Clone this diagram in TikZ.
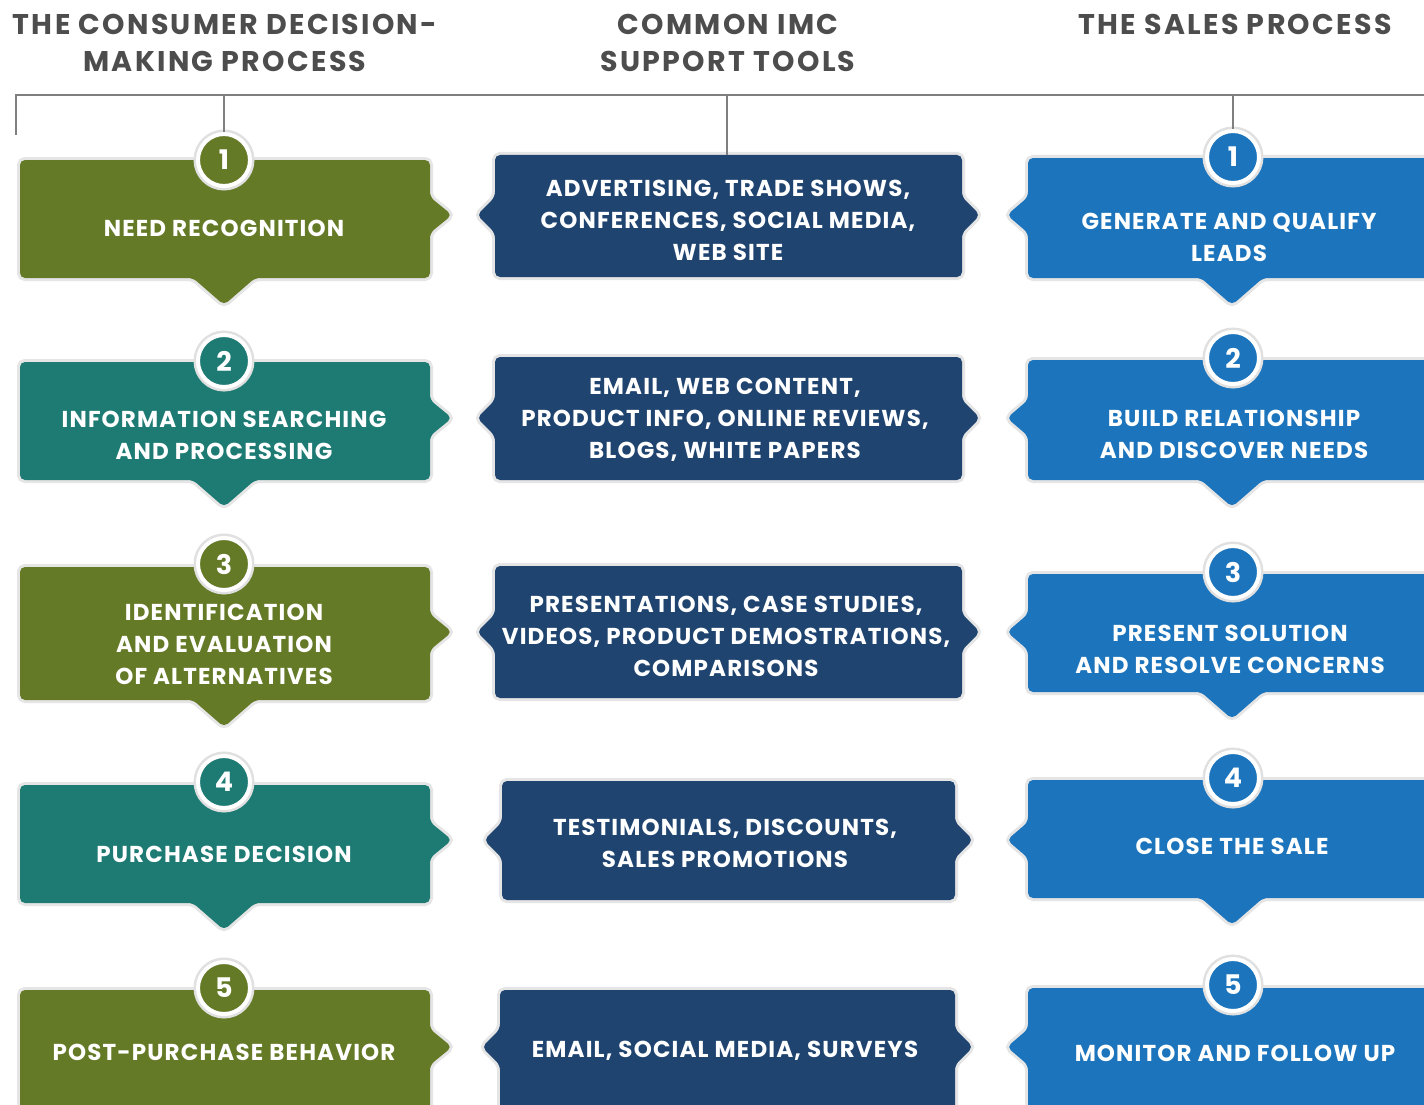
\documentclass[tikz,border=0pt]{standalone}
\usepackage{fontspec}
\setmainfont{Poppins}
\newfontfamily\widefont{Poppins}[LetterSpace=5]
\newfontfamily\headfont{Poppins}[LetterSpace=8]
\definecolor{cOlive}{HTML}{657A27}
\definecolor{cTeal}{HTML}{1E7B74}
\definecolor{cNavy}{HTML}{1F4470}
\definecolor{cBlue}{HTML}{1C75BC}
\definecolor{cLine}{HTML}{7F7F7F}
\definecolor{cHead}{HTML}{4D4D4D}
\tikzset{
  boxsh/.style={rounded corners=5pt,preaction={draw=black!10,line width=6pt}},
  numc/.style={circle,draw=white,line width=4pt,minimum size=52pt,inner sep=0pt,text=white,
     font=\bfseries\fontsize{27}{27}\selectfont,preaction={draw=black!12,line width=9pt}},
  txt/.style={text=white,align=center,font=\widefont\bfseries\fontsize{23}{32}\selectfont},
  head/.style={text=cHead,align=center,font=\headfont\bfseries\fontsize{28.5}{37}\selectfont},
  bracket/.style={draw=cLine,line width=2pt}
}
% left box: #1 y1, #2 y2, #3 ym (right tip), #4 colour
\newcommand\leftbox[4]{%
 \path[boxsh,fill=#4] (20,#1) -- (430,#1) -- (430,{#3-18}) -- (452,#3) -- (430,{#3+18}) -- (430,#2)
   -- (255,#2) -- (224,{#2+27}) -- (193,#2) -- (20,#2) -- cycle;}
% middle box: #1 x1, #2 x2, #3 y1, #4 y2, #5 ym
\newcommand\midbox[5]{%
 \path[boxsh,fill=cNavy] (#1,#3) -- (#2,#3) -- (#2,{#5-18}) -- ({#2+18},#5) -- (#2,{#5+18}) -- (#2,#4)
   -- (#1,#4) -- (#1,{#5+18}) -- ({#1-18},#5) -- (#1,{#5-18}) -- cycle;}
% right box: #1 y1, #2 y2, #3 ym
\newcommand\rightbox[3]{%
 \path[boxsh,fill=cBlue] (1028,#1) -- (1460,#1) -- (1460,#2) -- (1263,#2) -- (1232,{#2+27}) -- (1201,#2)
   -- (1028,#2) -- (1028,{#3+18}) -- (1007,#3) -- (1028,{#3-18}) -- cycle;}
\begin{document}
\begin{tikzpicture}[x=1pt,y=-1pt]
\useasboundingbox (0,0) rectangle (1424,1105);
\clip (0,0) rectangle (1424,1105);
\fill[white] (0,0) rectangle (1424,1105);

% headers
\node[head] (h1) at (225,43) {THE CONSUMER DECISION-\\MAKING PROCESS};
\node[head] (h2) at (728,43) {COMMON IMC\\SUPPORT TOOLS};
\node[head] (h3) at (1235,24) {THE SALES PROCESS};

% boxes
\leftbox{160}{278}{215}{cOlive}
\leftbox{362}{480}{418}{cTeal}
\leftbox{567}{700}{632}{cOlive}
\leftbox{785}{903}{840}{cTeal}
\leftbox{990}{1130}{1047}{cOlive}

\midbox{495}{962}{155}{277}{215}
\midbox{495}{962}{357}{480}{418}
\midbox{495}{962}{566}{698}{632}
\midbox{502}{955}{781}{900}{840}
\midbox{500}{955}{990}{1130}{1047}

\rightbox{158}{278}{215}
\rightbox{360}{480}{418}
\rightbox{574}{692}{632}
\rightbox{780}{898}{840}
\rightbox{988}{1130}{1047}

% number circles
\node[numc,fill=cOlive] (l1n) at (224,160) {1};
\node[numc,fill=cTeal]  (l2n) at (224,361) {2};
\node[numc,fill=cOlive] (l3n) at (224,564) {3};
\node[numc,fill=cTeal]  (l4n) at (224,782) {4};
\node[numc,fill=cOlive] (l5n) at (224,988) {5};
\node[numc,fill=cBlue] (r1n) at (1233,157) {1};
\node[numc,fill=cBlue] (r2n) at (1233,358) {2};
\node[numc,fill=cBlue] (r3n) at (1233,572) {3};
\node[numc,fill=cBlue] (r4n) at (1233,778) {4};
\node[numc,fill=cBlue] (r5n) at (1233,985) {5};

% bracket
\coordinate (bl) at (16,135);
\coordinate (br) at (1440,95);
\coordinate (m1top) at (727,155);
\draw[bracket] (bl) |- (br);
\draw[bracket] (224,95) -- (l1n.north);
\draw[bracket] (727,95) -- (m1top);
\draw[bracket] (1233,95) -- (r1n.north);

% texts left
\node[txt] (l1) at (224,228) {NEED RECOGNITION};
\node[txt] (l2) at (224,435) {INFORMATION SEARCHING\\AND PROCESSING};
\node[txt] (l3) at (224,644) {IDENTIFICATION\\AND EVALUATION\\OF ALTERNATIVES};
\node[txt] (l4) at (224,854) {PURCHASE DECISION};
\node[txt] (l5) at (224,1052) {POST-PURCHASE BEHAVIOR};

% texts middle
\node[txt] (m1) at (728,220) {ADVERTISING, TRADE SHOWS,\\CONFERENCES, SOCIAL MEDIA,\\WEB SITE};
\node[txt] (m2) at (725,420) {EMAIL, WEB CONTENT,\\PRODUCT INFO, ONLINE REVIEWS,\\BLOGS, WHITE PAPERS};
\node[txt] (m3) at (726,636) {PRESENTATIONS, CASE STUDIES,\\VIDEOS, PRODUCT DEMOSTRATIONS,\\COMPARISONS};
\node[txt] (m4) at (725,843) {TESTIMONIALS, DISCOUNTS,\\SALES PROMOTIONS};
\node[txt] (m5) at (725,1051) {EMAIL, SOCIAL MEDIA, SURVEYS};

% texts right
\node[txt] (r1) at (1229,237) {GENERATE AND QUALIFY\\LEADS};
\node[txt] (r2) at (1234,434) {BUILD RELATIONSHIP\\AND DISCOVER NEEDS};
\node[txt] (r3) at (1230,649) {PRESENT SOLUTION\\AND RESOLVE CONCERNS};
\node[txt] (r4) at (1232,846) {CLOSE THE SALE};
\node[txt] (r5) at (1235,1053) {MONITOR AND FOLLOW UP};
\end{tikzpicture}
\end{document}
